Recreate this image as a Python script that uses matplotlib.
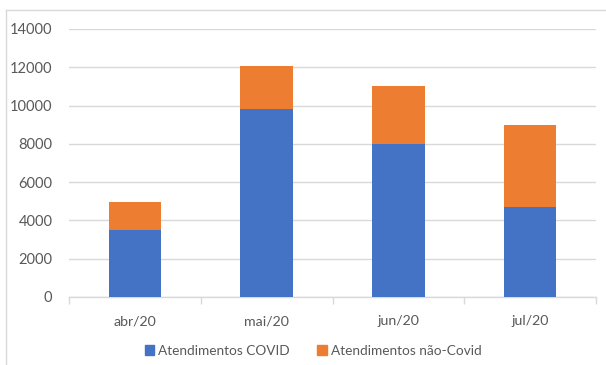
import numpy as np
import matplotlib.pyplot as plt
from matplotlib.lines import Line2D

# monthly attendance, split by COVID / non-COVID
months = ["abr/20", "mai/20", "jun/20", "jul/20"]
covid = [3500, 9830, 8000, 4700]
nao_covid = [1480, 2250, 3000, 4300]
series_names = ["Atendimentos COVID", "Atendimentos não-Covid"]
y_ticks = [0, 2000, 4000, 6000, 8000, 10000, 12000, 14000]

BLUE = "#4472C4"
ORANGE = "#ED7D31"
GRID = "#d9d9d9"
TEXT = "#595959"

plt.rcParams['font.family'] = ['Lato', 'DejaVu Sans']

W, H = 606, 365
fig = plt.figure(figsize=(W / 100, H / 100), dpi=100)
ax = fig.add_axes([69 / W, 68 / H, 527 / W, 268 / H])

x = np.arange(len(months))
ax.bar(x, covid, width=0.4, color=BLUE, label=series_names[0], zorder=3)
ax.bar(x, nao_covid, width=0.4, bottom=covid, color=ORANGE,
       label=series_names[1], zorder=3)

ax.set_xlim(-0.5, len(months) - 0.5)
ax.set_ylim(0, 14000)
ax.set_yticks(y_ticks)
ax.set_yticklabels([str(v) for v in y_ticks])
ax.set_xticks(x)
ax.set_xticklabels(months)
ax.set_xticks(np.arange(-0.5, len(months)), minor=True)

ax.grid(axis="y", color=GRID, linewidth=1, zorder=0)
for side in ["top", "right", "left"]:
    ax.spines[side].set_visible(False)
ax.spines["bottom"].set_color(GRID)
ax.spines["bottom"].set_linewidth(1)

ax.tick_params(axis="y", length=0, pad=12, labelsize=10.5, labelcolor=TEXT)
ax.tick_params(axis="x", which="major", length=0, pad=13, labelsize=10.2,
               labelcolor=TEXT)
ax.tick_params(axis="x", which="minor", length=5, width=1, color=GRID)

# legend below the plot
handles = [plt.Rectangle((0, 0), 1, 1, color=BLUE),
           plt.Rectangle((0, 0), 1, 1, color=ORANGE)]
fig.legend(handles, series_names, loc="center", bbox_to_anchor=(313 / W, 14 / H),
           ncol=2, frameon=False, fontsize=9.8, labelcolor=TEXT,
           handlelength=0.7, handleheight=0.7, handletextpad=0.3,
           columnspacing=2.0)

# chart area border (left and top edges)
fig.add_artist(Line2D([6 / W, 6 / W], [0, 355 / H], color=GRID, lw=1,
                      transform=fig.transFigure))
fig.add_artist(Line2D([6 / W, 1], [355 / H, 355 / H], color=GRID, lw=1,
                      transform=fig.transFigure))

fig.savefig("out.png", dpi=100)
